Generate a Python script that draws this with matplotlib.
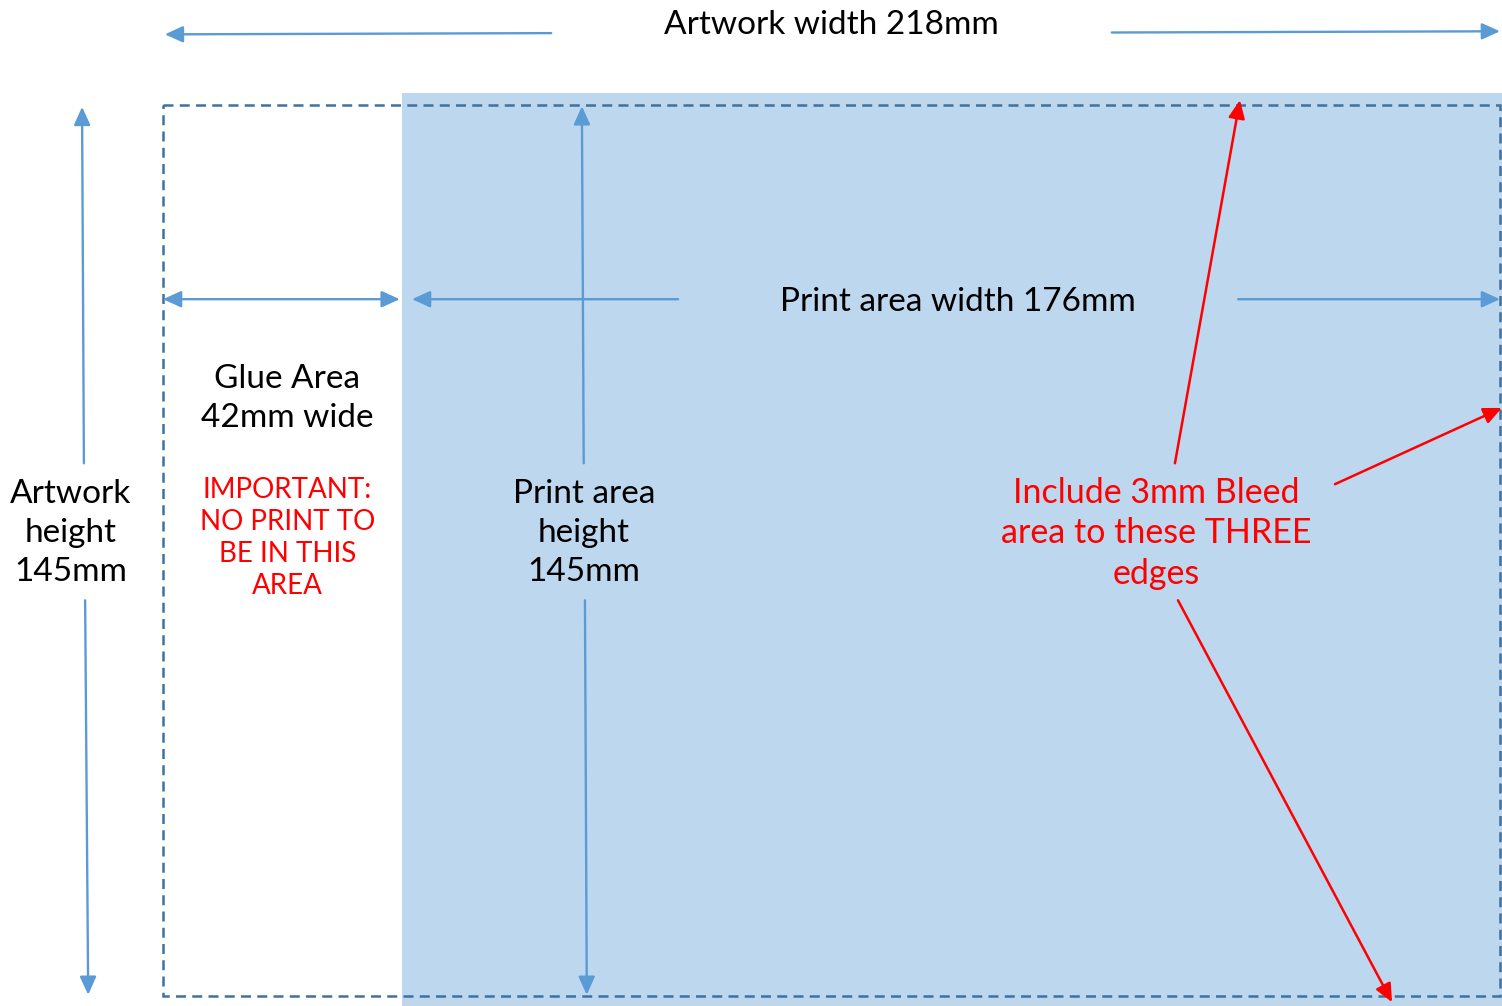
import matplotlib.pyplot as plt
from matplotlib.patches import Rectangle

# Dimensions (mm)
ART_W, ART_H = 218, 145
GLUE_W = 42
PRINT_W = 176
BLEED = 3

# Labels
lbl_art_w = f"Artwork width {ART_W}mm"
lbl_art_h = f"Artwork\nheight\n{ART_H}mm"
lbl_print_w = f"Print area width {PRINT_W}mm"
lbl_print_h = f"Print area\nheight\n{ART_H}mm"
lbl_glue = f"Glue Area\n{GLUE_W}mm wide"
lbl_warn = "IMPORTANT:\nNO PRINT TO\nBE IN THIS\nAREA"
lbl_bleed = f"Include {BLEED}mm Bleed\narea to these THREE\nedges"

BLUE = '#5B9BD5'
DASH = '#41719C'
FILL = '#BDD7EE'
RED = '#FF0000'

plt.rcParams['font.family'] = ['Lato', 'DejaVu Sans']

fig = plt.figure(figsize=(15.02, 10.06), dpi=100)
ax = fig.add_axes([0, 0, 1, 1])
ax.set_xlim(-26.58, 218.33)
ax.set_ylim(146.62, -17.09)
ax.axis('off')

# print area incl. bleed
ax.add_patch(Rectangle((GLUE_W - BLEED, -2), ART_W - GLUE_W + 2 * BLEED, ART_H + 5,
                       facecolor=FILL, edgecolor='none', zorder=1))
# artwork outline
ax.add_patch(Rectangle((0, 0), ART_W, ART_H, facecolor='none', edgecolor=DASH,
                       lw=1.8, linestyle=(0, (4, 2.5)), zorder=2))


def arrow(x0, y0, x1, y1, color=BLUE, lw=1.7, both=False):
    style = '<|-|>' if both else '-|>'
    ax.annotate('', xy=(x1, y1), xytext=(x0, y0),
                arrowprops=dict(arrowstyle=style + ',head_length=1.1,head_width=0.5',
                                color=color, lw=lw, shrinkA=0, shrinkB=0),
                zorder=3)


FS = 24

# artwork width
arrow(63.3, -11.7, 0.3, -11.5)
arrow(154.7, -11.8, ART_W, -12.0)
ax.text(ART_W / 2, -13.1, lbl_art_w, ha='center', va='center', fontsize=FS)

# glue width
arrow(0, 31.6, GLUE_W - 3.4, 31.6, both=True)

# print width
arrow(84, 31.6, 40.6, 31.6)
arrow(175.3, 31.6, ART_W, 31.6)
ax.text(129.6, 32.1, lbl_print_w, ha='center', va='center', fontsize=FS)

# artwork height
arrow(-12.9, 58.3, -13.2, 0.3)
arrow(-12.7, 80.6, -12.2, 144.8)
ax.text(-15, 69.7, lbl_art_h, ha='center', va='center', fontsize=FS, linespacing=1.37)

# print height
arrow(68.6, 58.3, 68.3, 0.2)
arrow(68.8, 80.6, 69.1, 144.8)
ax.text(68.6, 69.7, lbl_print_h, ha='center', va='center', fontsize=FS, linespacing=1.37)

# glue notes
ax.text(20.2, 47.7, lbl_glue, ha='center', va='center', fontsize=FS, linespacing=1.37)
ax.text(20.3, 70.5, lbl_warn, ha='center', va='center', fontsize=20,
        color=RED, linespacing=1.28)

# bleed note
ax.text(161.9, 69.7, lbl_bleed, ha='center', va='center', fontsize=24.5,
        color=RED, linespacing=1.33)
arrow(165, 58.3, 175.6, -0.8, color=RED, lw=1.8)
arrow(191.1, 61.7, 218.3, 49.3, color=RED, lw=1.8)
arrow(165.5, 80.6, 200.4, 146, color=RED, lw=1.8)

fig.savefig('out.png', dpi=100)
